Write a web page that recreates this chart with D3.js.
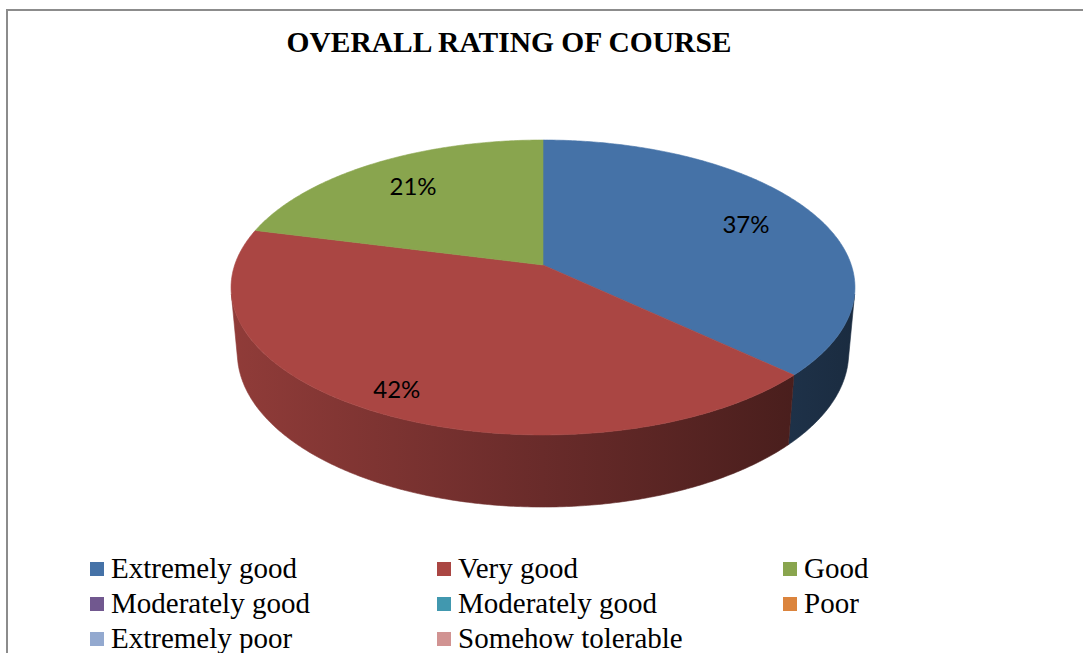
<!DOCTYPE html>
<html>
<head>
<meta charset="utf-8">
<script src="https://cdn.jsdelivr.net/npm/d3@7"></script>
<style>
  body { margin: 0; background: #fff; }
  svg { display: block; }
</style>
</head>
<body>
<svg id="chart" width="1083" height="653"></svg>
<script>
var width = 1083;
var height = 653;

// data
var categories = ["Extremely good", "Very good", "Good", "Moderately good",
                  "Moderately good", "Poor", "Extremely poor", "Somehow tolerable"];
var values = [37, 42, 21, 0, 0, 0, 0, 0];
var colors = ["#4572A7", "#AA4643", "#89A54E", "#71588F",
              "#4198AF", "#DB843D", "#93A9CF", "#D19392"];
var labelRadius = [0.75, 0.87, 0.75, 0.75, 0.75, 0.75, 0.75, 0.75];

var svg = d3.select("#chart");

// frame
svg.append("rect")
    .attr("x", 7).attr("y", 10)
    .attr("width", 1100).attr("height", 700)
    .attr("fill", "#fff")
    .attr("stroke", "#8c8c8c")
    .attr("stroke-width", 2);

// title
svg.append("text")
    .attr("x", 509).attr("y", 52)
    .attr("text-anchor", "middle")
    .style("font-family", "'Liberation Serif', 'Times New Roman', serif")
    .style("font-weight", "bold")
    .style("font-size", "29.5px")
    .text("OVERALL RATING OF COURSE");

// 3D perspective projection of a tilted disc
var cx = 543, cy = 265;
var fx = 1782, fy = 1762;
var dist = 5.78, cphi = 0.881, sphi = 0.4725, depthH = 0.2456;

function proj(a, r, z) {
    var X = r * Math.sin(a), Y = r * Math.cos(a);
    var dep = dist + Y * cphi - z * sphi;
    var up = Y * sphi + z * cphi;
    return [cx + fx * X / dep, cy - fy * up / dep];
}

function arcPts(a0, a1, r, z) {
    var n = Math.max(2, Math.ceil(Math.abs(a1 - a0) / 0.01));
    var pts = [];
    for (var i = 0; i <= n; i++) {
        pts.push(proj(a0 + (a1 - a0) * i / n, r, z));
    }
    return pts;
}

var pie = d3.pie().sort(null).value(d => d.value);
var data = categories.map((c, i) => ({ name: c, value: values[i], color: colors[i], lr: labelRadius[i] }));
var arcs = pie(data).filter(d => d.value > 0);

var line = d3.line();
var defs = svg.append("defs");

// side visible where cos(a) < -1/(dist*cphi)
var visMin = Math.acos(-1 / (dist * cphi));
var visMax = 2 * Math.PI - visMin;

var leftX = proj(-Math.PI / 2, 1, 0)[0] - 10;
var rightX = proj(Math.PI / 2, 1, 0)[0] + 10;

arcs.forEach(function (d, i) {
    var base = d3.rgb(d.data.color);
    var g = defs.append("linearGradient")
        .attr("id", "side" + i)
        .attr("gradientUnits", "userSpaceOnUse")
        .attr("x1", leftX).attr("x2", rightX)
        .attr("y1", 0).attr("y2", 0);
    [[0, 0.85], [0.5, 0.62], [1, 0.38]].forEach(function (s) {
        g.append("stop")
            .attr("offset", s[0])
            .attr("stop-color", d3.rgb(base.r * s[1], base.g * s[1], base.b * s[1]).formatHex());
    });
});

// sides
var sides = svg.append("g");
arcs.forEach(function (d, i) {
    var a0 = Math.max(d.startAngle, visMin);
    var a1 = Math.min(d.endAngle, visMax);
    if (a1 <= a0) return;
    var pts = arcPts(a0, a1, 1, 0).concat(arcPts(a1, a0, 1, -depthH));
    sides.append("path")
        .attr("d", line(pts) + "Z")
        .attr("fill", "url(#side" + i + ")")
        .attr("stroke", "url(#side" + i + ")")
        .attr("stroke-width", 0.6);
});

// tops
var tops = svg.append("g");
arcs.forEach(function (d) {
    var pts = [proj(0, 0, 0)].concat(arcPts(d.startAngle, d.endAngle, 1, 0));
    tops.append("path")
        .attr("d", line(pts) + "Z")
        .attr("fill", d.data.color)
        .attr("stroke", d.data.color)
        .attr("stroke-width", 0.6);
});

// labels
var total = d3.sum(values);
svg.append("g").selectAll("text")
    .data(arcs)
    .enter()
    .append("text")
    .attr("x", d => proj((d.startAngle + d.endAngle) / 2, d.data.lr, 0)[0])
    .attr("y", d => proj((d.startAngle + d.endAngle) / 2, d.data.lr, 0)[1])
    .attr("dy", "0.36em")
    .attr("text-anchor", "middle")
    .style("font-family", "Lato, 'Open Sans', sans-serif")
    .style("font-size", "24px")
    .attr("fill", "#000")
    .text(d => Math.round(d.value / total * 100) + "%");

// legend
var colX = [90, 437, 783];
var rowY = [562, 597, 632];
var legend = svg.append("g").selectAll("g")
    .data(data)
    .enter()
    .append("g")
    .attr("transform", (d, i) => "translate(" + colX[i % 3] + "," + rowY[Math.floor(i / 3)] + ")");

legend.append("rect")
    .attr("width", 14).attr("height", 14)
    .attr("fill", d => d.color);

legend.append("text")
    .attr("x", 21).attr("y", 16)
    .style("font-family", "'Liberation Serif', 'Times New Roman', serif")
    .style("font-size", "29px")
    .text(d => d.name);
</script>
</body>
</html>
